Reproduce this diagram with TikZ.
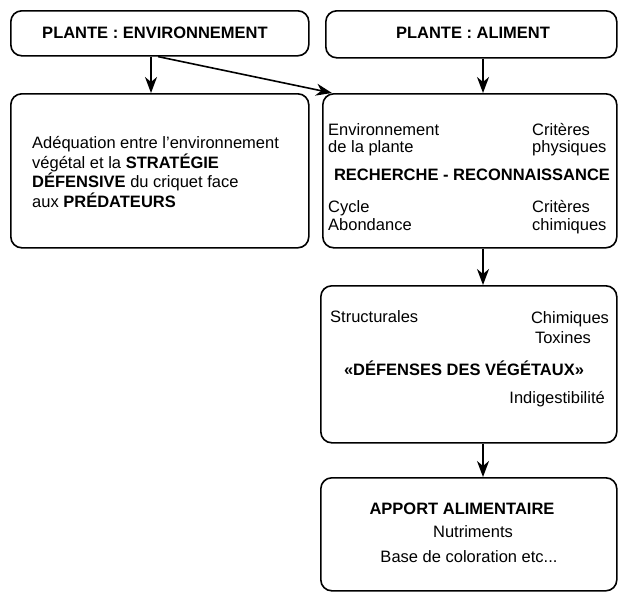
\documentclass[tikz,border=0pt]{standalone}
\usepackage{fontspec}
\setmainfont{Liberation Sans}
\usetikzlibrary{arrows.meta}
\begin{document}
\begin{tikzpicture}[x=1pt,y=-1pt,
  box/.style={draw, line width=1.6pt, rounded corners=11pt, rectangle, anchor=north west, inner sep=0pt},
  arr/.style={line width=1.6pt, -{Stealth[length=16pt,width=12pt,inset=5pt]}},
  txt/.style={inner sep=0pt, font=\fontsize{16.5}{19}\selectfont},
  bld/.style={inner sep=0pt, font=\fontsize{16.5}{19}\selectfont\bfseries}]
\useasboundingbox (0,0) rectangle (618,592);
% boxes
\node[box, minimum width=298pt, minimum height=45pt] (b1) at (10,10) {};
\node[box, minimum width=291pt, minimum height=47pt] (b2) at (325,10) {};
\node[box, minimum width=298pt, minimum height=154pt] (b3) at (10,93) {};
\node[box, minimum width=294pt, minimum height=154pt] (b4) at (322,93) {};
\node[box, minimum width=296pt, minimum height=157pt] (b5) at (320,285) {};
\node[box, minimum width=296pt, minimum height=113pt] (b6) at (320,477) {};
% titles
\node[bld, anchor=base] (t1) at (155,38) {PLANTE : ENVIRONNEMENT};
\node[bld, anchor=base] (t2) at (473,38) {PLANTE : ALIMENT};
% box 3
\node[txt, anchor=base west] (l1) at (32,148) {Adéquation entre l'environnement};
\node[txt, anchor=base west] (l2) at (32,168) {végétal et la \textbf{STRATÉGIE}};
\node[txt, anchor=base west] (l3) at (32,187.5) {\textbf{DÉFENSIVE} du criquet face};
\node[txt, anchor=base west] (l4) at (32,207) {aux \textbf{PRÉDATEURS}};
% box 4
\node[txt, anchor=base west] (e1) at (328,135) {Environnement};
\node[txt, anchor=base west] (e2) at (328,152) {de la plante};
\node[txt, anchor=base west] (p1) at (532,135) {Critères};
\node[txt, anchor=base west] (p2) at (532,152) {physiques};
\node[bld, anchor=base] (rr) at (472,180) {RECHERCHE - RECONNAISSANCE};
\node[txt, anchor=base west] (c1) at (328,212) {Cycle};
\node[txt, anchor=base west] (c2) at (328,230) {Abondance};
\node[txt, anchor=base west] (q1) at (532,212) {Critères};
\node[txt, anchor=base west] (q2) at (532,230) {chimiques};
% box 5
\node[txt, anchor=base west] (s1) at (330,322) {Structurales};
\node[txt, anchor=base] (h1) at (570,323) {Chimiques};
\node[txt, anchor=base] (h2) at (563,343) {Toxines};
\node[bld, anchor=base] (dv) at (464,375) {«DÉFENSES DES VÉGÉTAUX»};
\node[txt, anchor=base east] (ig) at (605,403) {Indigestibilité};
% box 6
\node[bld, anchor=base] (aa) at (462,514) {APPORT ALIMENTAIRE};
\node[txt, anchor=base] (nu) at (473,537) {Nutriments};
\node[txt, anchor=base] (bc) at (469,562) {Base de coloration etc...};
% arrows
\coordinate (ax) at (483,0);
\draw[arr] ([xshift=141pt]b1.south west) -- ([xshift=141pt]b3.north west);
\draw[arr] ([xshift=148pt]b1.south west) -- ([xshift=10pt]b4.north west);
\draw[arr] (b2.south -| ax) -- (b4.north -| ax);
\draw[arr] (b4.south -| ax) -- (b5.north -| ax);
\draw[arr] (b5.south -| ax) -- (b6.north -| ax);
\end{tikzpicture}
\end{document}
